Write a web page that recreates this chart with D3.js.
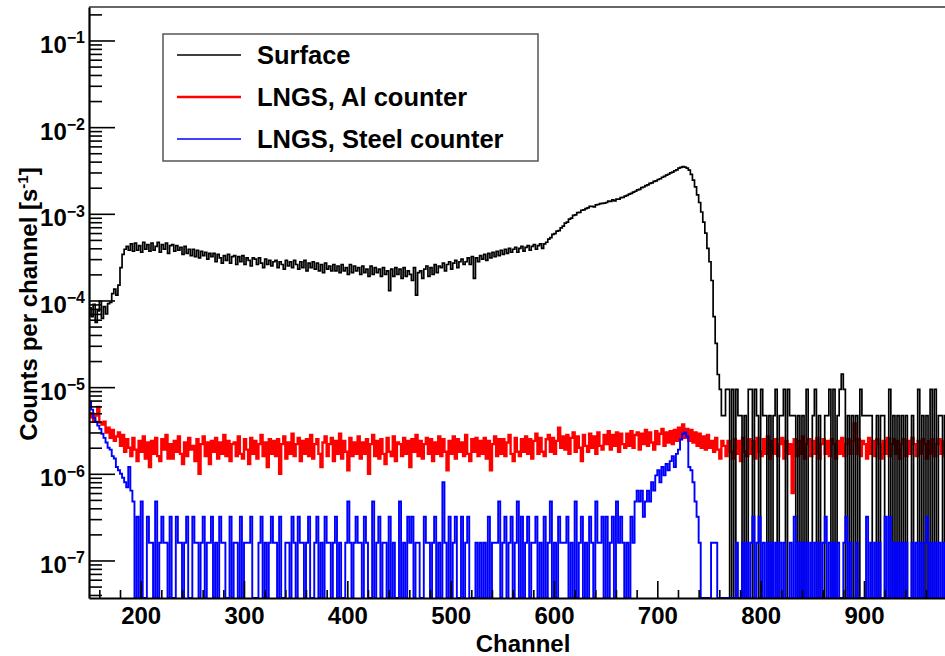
<!DOCTYPE html>
<html lang="en">
<head>
<meta charset="utf-8"/>
<title>Counts per channel</title>
<script src="https://d3js.org/d3.v7.min.js"></script>
<style>
  body { margin: 0; background: #fff; }
  svg text { font-family: "Liberation Sans", Arial, Helvetica, sans-serif; font-weight: bold; fill: #000; }
</style>
</head>
<body>
<svg id="chart" width="945" height="656"></svg>
<script>
// histogram binning: 2 channels per bin starting at channel 150
const binStart = 150;
const binWidth = 2;
// all rates below are in units of 1e-7 counts per channel per second
const rateUnit = 1e-7;

const surface = [
  820, 650, 900, 560, 760, 980, 620, 850, 700, 920,
  950, 1200, 1350, 1150, 1500, 2400, 3400, 3900, 4200, 3800,
  4500, 3700, 4600, 3800, 4300, 3600, 4700, 3900, 4400, 3700,
  4600, 3800, 4200, 4700, 3600, 4400, 3900, 4600, 3500, 4300,
  4400, 3700, 4300, 3800, 4100, 3400, 4200, 3500, 3900, 3300,
  3900, 3200, 3800, 3100, 3700, 3300, 3600, 3000, 3500, 3200,
  3500, 2800, 3400, 3100, 2700, 3300, 2900, 3400, 2700, 3200,
  3300, 2600, 3200, 2800, 3300, 2600, 3100, 2900, 2500, 3100,
  3000, 2600, 3100, 2700, 2400, 3000, 2600, 2900, 2500, 2800,
  2900, 2400, 2800, 2600, 2300, 2900, 2500, 2800, 2400, 2900,
  2600, 2300, 2800, 2400, 2900, 2200, 2700, 2400, 2800, 2300,
  2700, 2200, 2600, 2100, 2700, 2300, 2500, 2200, 2600, 2200,
  2500, 2100, 2600, 2200, 2400, 2000, 2600, 2100, 2500, 2200,
  2400, 2000, 2500, 2100, 2300, 1900, 2500, 2000, 2400, 2100,
  2300, 1900, 2400, 2000, 2200, 1300, 2300, 1900, 2400, 2000,
  2300, 1800, 2400, 1900, 2200, 2000, 1700, 2400, 1150, 2100,
  2200, 1800, 2300, 2500, 1900, 2400, 2000, 2600, 2100, 2500,
  2400, 2700, 2200, 2600, 2800, 2300, 2700, 2900, 2400, 2800,
  3000, 2600, 2800, 3100, 2600, 3200, 1800, 3100, 2800, 3300,
  3000, 3400, 2900, 3500, 3100, 3600, 3200, 3700, 3300, 3800,
  3400, 3900, 3500, 4000, 3600, 3900, 4100, 3600, 4000, 4200,
  3700, 4100, 4300, 3800, 4200, 4400, 3900, 4300, 4500, 4000,
  4500, 4700, 5100, 5300, 5800, 5900, 6300, 6400, 6900, 7200,
  7800, 8000, 8700, 8900, 9600, 9700, 10300, 10400, 11000, 11100,
  11500, 11700, 12200, 12200, 12000, 12700, 12800, 13100, 13200, 13300,
  13500, 14000, 13900, 14500, 14100, 14800, 14800, 15400, 15500, 16000,
  16300, 16900, 17200, 17800, 18200, 18900, 19100, 20000, 20400, 21100,
  21600, 22400, 22800, 23700, 24000, 24900, 25400, 26400, 27000, 27900,
  28600, 29600, 30200, 31400, 32100, 33600, 34400, 35100, 34600, 33600,
  32000, 28500, 24500, 20500, 16500, 13500, 10500, 8000, 6000, 4000,
  2800, 1700, 650, 320, 140, 94, 47, 47, 94, 94,
  0, 94, 0, 94, 47, 47, 0, 47, 0, 94,
  94, 0, 94, 47, 0, 94, 47, 47, 0, 47,
  0, 47, 94, 0, 47, 47, 94, 0, 94, 47,
  47, 47, 0, 47, 0, 47, 0, 94, 0, 0,
  47, 94, 0, 47, 0, 0, 47, 47, 94, 0,
  94, 0, 47, 94, 141, 94, 0, 47, 0, 47,
  0, 47, 0, 94, 47, 47, 47, 47, 47, 0,
  0, 47, 0, 47, 47, 0, 0, 94, 0, 47,
  0, 47, 0, 47, 0, 47, 0, 0, 47, 0,
  0, 94, 0, 47, 0, 47, 0, 94, 0, 94,
  0, 47, 47, 0, 47, 0, 0, 47, 0, 47
];

const alCounter = [
  45, 50, 41, 47, 59, 39, 37, 40, 30, 34,
  26, 32, 24, 27, 30, 21, 28, 18, 25, 20,
  16, 26, 19, 14, 24, 18, 27, 15, 23, 12,
  24, 17, 26, 16, 14, 25, 19, 28, 15, 22,
  15, 24, 18, 27, 17, 13, 23, 16, 26, 19,
  21, 14, 25, 10, 22, 27, 16, 23, 13, 24,
  18, 26, 15, 23, 17, 28, 16, 24, 14, 22,
  23, 16, 27, 17, 15, 25, 19, 13, 26, 17,
  24, 15, 22, 28, 16, 23, 12, 25, 17, 24,
  16, 25, 10, 22, 27, 15, 23, 17, 29, 16,
  22, 26, 14, 24, 17, 25, 16, 28, 15, 22,
  25, 17, 12, 23, 27, 16, 22, 26, 14, 24,
  17, 29, 15, 24, 18, 11, 26, 16, 23, 17,
  27, 15, 23, 17, 25, 10, 22, 28, 16, 24,
  15, 25, 17, 13, 26, 18, 16, 27, 14, 23,
  22, 16, 26, 17, 24, 12, 25, 18, 28, 16,
  24, 15, 22, 26, 17, 25, 14, 23, 17, 27,
  16, 25, 18, 11, 24, 17, 27, 15, 25, 18,
  23, 16, 28, 17, 14, 25, 18, 26, 16, 24,
  17, 26, 15, 24, 11, 22, 27, 16, 25, 17,
  25, 16, 23, 28, 17, 14, 26, 18, 16, 25,
  18, 27, 17, 25, 15, 24, 29, 17, 26, 18,
  16, 25, 28, 18, 26, 17, 24, 34, 20, 27,
  19, 28, 17, 26, 30, 18, 27, 20, 14, 28,
  21, 18, 29, 20, 27, 17, 30, 21, 19, 28,
  22, 31, 19, 28, 21, 30, 18, 29, 22, 20,
  29, 21, 31, 20, 28, 30, 19, 29, 22, 32,
  21, 30, 23, 19, 31, 22, 29, 33, 21, 30,
  23, 31, 22, 32, 24, 34, 25, 37, 26, 33,
  24, 32, 23, 30, 21, 29, 20, 27, 19, 28,
  20, 24, 18, 26, 19, 15, 24, 21, 16, 24,
  18, 15, 25, 17, 24, 14, 26, 18, 16, 25,
  17, 24, 15, 26, 18, 16, 25, 17, 27, 15,
  24, 17, 25, 16, 22, 26, 15, 24, 17, 22,
  6, 25, 16, 24, 17, 27, 15, 22, 25, 16,
  24, 17, 26, 15, 22, 25, 17, 24, 16, 25,
  22, 15, 24, 17, 26, 16, 22, 25, 17, 24,
  38, 17, 25, 16, 24, 22, 15, 26, 17, 24,
  16, 25, 22, 15, 24, 17, 26, 16, 22, 25,
  17, 24, 15, 22, 25, 16, 24, 17, 26, 22,
  16, 24, 17, 25, 22, 15, 24, 17, 25, 16,
  22, 25, 17, 24, 16, 22, 26, 17, 24, 22
];

const steelCounter = [
  68, 55, 44, 40, 36, 33, 29, 26, 23, 20,
  19, 16, 15, 12, 11, 10, 9, 8, 7, 12,
  6.4, 4.8, 0, 3.2, 0, 4.8, 0, 0, 3.2, 1.6,
  1.6, 0, 4.8, 0, 1.6, 3.2, 1.6, 1.6, 0, 3.2,
  0, 0, 3.2, 1.6, 1.6, 0, 1.6, 3.2, 0, 0,
  3.2, 1.6, 1.6, 0, 1.6, 3.2, 0, 1.6, 1.6, 3.2,
  0, 1.6, 0, 3.2, 1.6, 1.6, 0, 0, 3.2, 0,
  1.6, 1.6, 0, 3.2, 0, 1.6, 1.6, 1.6, 3.2, 0,
  0, 0, 1.6, 3.2, 0, 1.6, 0, 1.6, 3.2, 1.6,
  1.6, 0, 3.2, 0, 0, 1.6, 1.6, 0, 3.2, 1.6,
  0, 3.2, 1.6, 1.6, 0, 1.6, 3.2, 0, 0, 1.6,
  3.2, 0, 1.6, 0, 3.2, 1.6, 1.6, 0, 1.6, 3.2,
  0, 1.6, 0, 0, 1.6, 4.8, 1.6, 0, 1.6, 3.2,
  1.6, 1.6, 0, 3.2, 1.6, 0, 0, 4.8, 0, 1.6,
  3.2, 0, 1.6, 1.6, 0, 3.2, 0, 1.6, 0, 0,
  4.8, 0, 1.6, 0, 3.2, 1.6, 3.2, 0, 1.6, 1.6,
  0, 0, 3.2, 1.6, 1.6, 0, 1.6, 3.2, 0, 1.6,
  0, 8.0, 1.6, 0, 3.2, 0, 1.6, 3.2, 0, 0,
  3.2, 0, 1.6, 3.2, 0, 0, 0, 1.6, 0, 1.6,
  0, 1.6, 0, 3.2, 0, 1.6, 1.6, 1.6, 4.8, 0,
  1.6, 3.2, 0, 1.6, 3.2, 0, 1.6, 4.8, 0, 3.2,
  0, 1.6, 3.2, 0, 1.6, 1.6, 3.2, 0, 1.6, 0,
  3.2, 0, 1.6, 4.8, 0, 1.6, 0, 3.2, 1.6, 1.6,
  1.6, 3.2, 0, 1.6, 0, 4.8, 0, 1.6, 3.2, 0,
  1.6, 0, 3.2, 1.6, 0, 4.8, 1.6, 1.6, 3.2, 0,
  3.2, 0, 1.6, 3.2, 0, 4.8, 1.6, 3.2, 1.6, 0,
  1.6, 0, 3.2, 1.6, 4.8, 6.4, 4.8, 6.4, 3.2, 4.8,
  6.4, 4.8, 8.0, 6.4, 9.6, 11, 8.0, 12, 9.6, 13,
  11, 14, 16, 12, 17, 19, 25, 29, 30, 27,
  12, 11, 8, 4.8, 3.2, 1.6, 0, 0, 0, 0,
  0, 1.6, 1.6, 1.6, 0, 0, 0, 0, 0, 0,
  0, 0, 0, 1.6, 0, 0, 1.6, 0, 1.6, 0,
  1.6, 3.2, 0, 1.6, 3.2, 0, 1.6, 0, 1.6, 0,
  1.6, 0, 1.6, 0, 1.6, 0, 1.6, 0, 0, 1.6,
  0, 3.2, 0, 1.6, 0, 1.6, 0, 1.6, 0, 1.6,
  0, 1.6, 0, 1.6, 0, 1.6, 3.2, 0, 1.6, 0,
  1.6, 0, 1.6, 0, 0, 1.6, 3.2, 0, 1.6, 0,
  0, 1.6, 0, 0, 0, 0, 3.2, 0, 1.6, 0,
  1.6, 0, 1.6, 0, 0, 3.2, 0, 3.2, 0, 1.6,
  0, 1.6, 0, 1.6, 0, 1.6, 0, 0, 1.6, 0,
  1.6, 0, 1.6, 0, 1.6, 3.2, 0, 1.6, 0, 1.6,
  0, 1.6, 0, 1.6, 0, 1.6, 0, 1.6, 0, 1.6
];

const yTickExponents = [-7, -6, -5, -4, -3, -2, -1];
const xTickLabels = [200, 300, 400, 500, 600, 700, 800, 900];
const legendLabels = ["Surface", "LNGS, Al counter", "LNGS, Steel counter"];

const svg = d3.select("#chart");

const x = d3.scaleLinear().domain([150, 1000]).range([89, 967.3]);
const y = d3.scaleLog().domain([3.69e-8, 0.2434]).range([598, 7]);

const plotLeft = x.range()[0], plotRight = x.range()[1];
const plotTop = y.range()[1], plotBottom = y.range()[0];

svg.append("clipPath").attr("id", "plot-clip")
  .append("rect")
    .attr("x", plotLeft).attr("y", plotTop)
    .attr("width", plotRight - plotLeft).attr("height", plotBottom - plotTop);

// histogram drawn as steps, empty bins fall to the bottom of the frame
function stepPoints(vals) {
  const pts = vals.map((v, i) => [binStart + i * binWidth, v * rateUnit]);
  pts.push([binStart + vals.length * binWidth, vals[vals.length - 1] * rateUnit]);
  return pts;
}
const line = d3.line()
  .x(d => x(d[0]))
  .y(d => d[1] > 0 ? y(d[1]) : plotBottom)
  .curve(d3.curveStepAfter);

const series = [
  {key: "al", values: alCounter, color: "#ff0000", width: 2.4},
  {key: "surface", values: surface, color: "#000000", width: 1.7},
  {key: "steel", values: steelCounter, color: "#0000ff", width: 1.9}
];

svg.append("g")
    .attr("clip-path", "url(#plot-clip)")
  .selectAll("path")
  .data(series)
  .join("path")
    .attr("d", d => line(stepPoints(d.values)))
    .attr("fill", "none")
    .attr("stroke", d => d.color)
    .attr("stroke-width", d => d.width)
    .attr("stroke-linejoin", "miter");

// top border of the frame
svg.append("line")
    .attr("x1", plotLeft).attr("x2", plotRight)
    .attr("y1", plotTop).attr("y2", plotTop)
    .attr("stroke", "#666").attr("stroke-width", 2);

// y axis: minor ticks, then major ticks with 10^n labels
const yMajor = yTickExponents.map(e => Math.pow(10, e));
const yMinor = y.ticks().filter(v => !yMajor.some(m => Math.abs(v / m - 1) < 1e-6));

svg.append("g")
    .attr("transform", `translate(${plotLeft},0)`)
    .call(d3.axisLeft(y).tickValues(yMinor).tickSize(-13).tickSizeOuter(0).tickFormat(""))
    .call(g => g.select(".domain").remove())
    .call(g => g.selectAll(".tick line").attr("stroke", "#000").attr("stroke-width", 1.6));

const yAxis = svg.append("g")
    .attr("transform", `translate(${plotLeft},0)`)
    .call(d3.axisLeft(y).tickValues(yMajor).tickSize(-26).tickSizeOuter(0).tickFormat(""));
yAxis.select(".domain").attr("stroke", "#000").attr("stroke-width", 2.2);
yAxis.selectAll(".tick line").attr("stroke", "#000").attr("stroke-width", 1.6);
yAxis.selectAll(".tick text").remove();
yAxis.selectAll(".tick").each(function(d, i) {
  const t = d3.select(this).append("text")
      .attr("x", -4).attr("y", 12)
      .attr("text-anchor", "end")
      .style("font-size", "24px");
  t.append("tspan").text("10");
  t.append("tspan").attr("dy", -9.5).style("font-size", "16px").text("\u2212" + Math.abs(yTickExponents[i]));
});

// x axis
const xMinor = d3.range(160, 1000, 20).filter(v => v % 100 !== 0);
svg.append("g")
    .attr("transform", `translate(0,${plotBottom})`)
    .call(d3.axisBottom(x).tickValues(xMinor).tickSize(-8).tickSizeOuter(0).tickFormat(""))
    .call(g => g.select(".domain").remove())
    .call(g => g.selectAll(".tick line").attr("stroke", "#000").attr("stroke-width", 1.6));

const xAxis = svg.append("g")
    .attr("transform", `translate(0,${plotBottom})`)
    .call(d3.axisBottom(x).tickValues(xTickLabels).tickSize(-17).tickSizeOuter(0).tickPadding(9).tickFormat(d3.format("d")));
xAxis.select(".domain").attr("stroke", "#000").attr("stroke-width", 2.2);
xAxis.selectAll(".tick line").attr("stroke", "#000").attr("stroke-width", 1.6);
xAxis.selectAll(".tick text")
    .attr("fill", "#000")
    .style("font-size", "24px")
    .style("font-family", "'Liberation Sans', Arial, sans-serif")
    .style("font-weight", "bold");

// axis titles
svg.append("text")
    .attr("x", 523).attr("y", 652)
    .attr("text-anchor", "middle")
    .style("font-size", "24px")
    .text("Channel");

const yTitle = svg.append("text")
    .attr("transform", "translate(37,304) rotate(-90)")
    .attr("text-anchor", "middle")
    .style("font-size", "24px");
yTitle.append("tspan").text("Counts per channel [s");
yTitle.append("tspan").attr("dy", -9).style("font-size", "15px").text("-1");
yTitle.append("tspan").attr("dy", 9).text("]");

// legend
const legend = svg.append("g");
legend.append("rect")
    .attr("x", 163).attr("y", 34)
    .attr("width", 375).attr("height", 127)
    .attr("fill", "#fff")
    .attr("stroke", "#555").attr("stroke-width", 1.5);

const legendColors = ["#000000", "#ff0000", "#0000ff"];
const legendWidths = [1.4, 2.4, 1.3];
const legendRows = legend.selectAll("g.row")
  .data(legendLabels)
  .join("g")
    .attr("class", "row")
    .attr("transform", (d, i) => `translate(0,${55 + i * 42})`);
legendRows.append("line")
    .attr("x1", 177).attr("x2", 241)
    .attr("stroke", (d, i) => legendColors[i])
    .attr("stroke-width", (d, i) => legendWidths[i]);
legendRows.append("text")
    .attr("x", 257).attr("y", 8.5)
    .style("font-size", "25.5px")
    .text(d => d);
</script>
</body>
</html>
